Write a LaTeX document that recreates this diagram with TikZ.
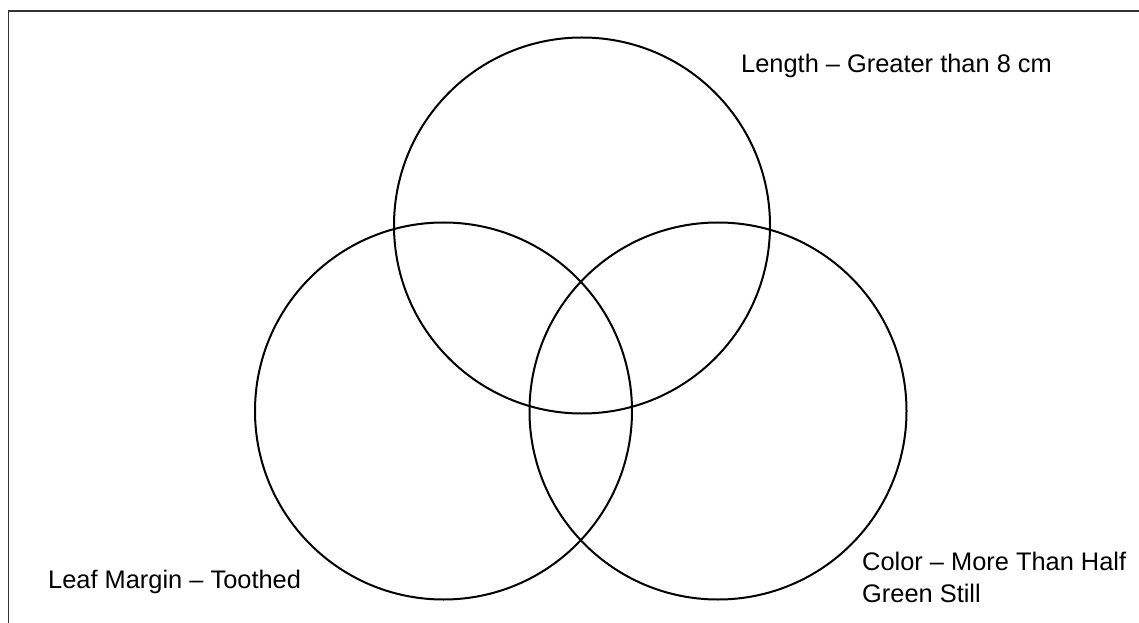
\documentclass[tikz,border=0pt]{standalone}
\usepackage{fontspec}
\setmainfont{Liberation Sans}
\begin{document}
\begin{tikzpicture}[x=1bp,y=-1bp,
  venn/.style={draw=black,line width=2bp},
  lbl/.style={anchor=base west,inner sep=0pt,font=\fontsize{25.4bp}{32.5bp}\selectfont,align=left},
  frame/.style={draw=black!80,line width=1.6bp}]
\useasboundingbox (0,0) rectangle (1139,623);
\coordinate (ftop) at (1139,11);
\coordinate (fcorner) at (8.5,11);
\coordinate (fbot) at (8.5,623);
\draw[frame] (ftop) -- (fcorner) -- (fbot);
\node[venn,circle,minimum size=376bp,inner sep=0pt] (len) at (582,225.5) {};
\node[venn,circle,minimum size=377bp,inner sep=0pt] (leaf) at (443.5,411) {};
\node[venn,circle,minimum size=377bp,inner sep=0pt] (col) at (718,411) {};
\node[lbl] (tlen) at (741,73) {Length – Greater than 8 cm};
\node[lbl] (tleaf) at (48,588) {Leaf Margin – Toothed};
\node[lbl] (tcol) at (862,602.5) {Color – More Than Half\\Green Still};
\end{tikzpicture}
\end{document}
